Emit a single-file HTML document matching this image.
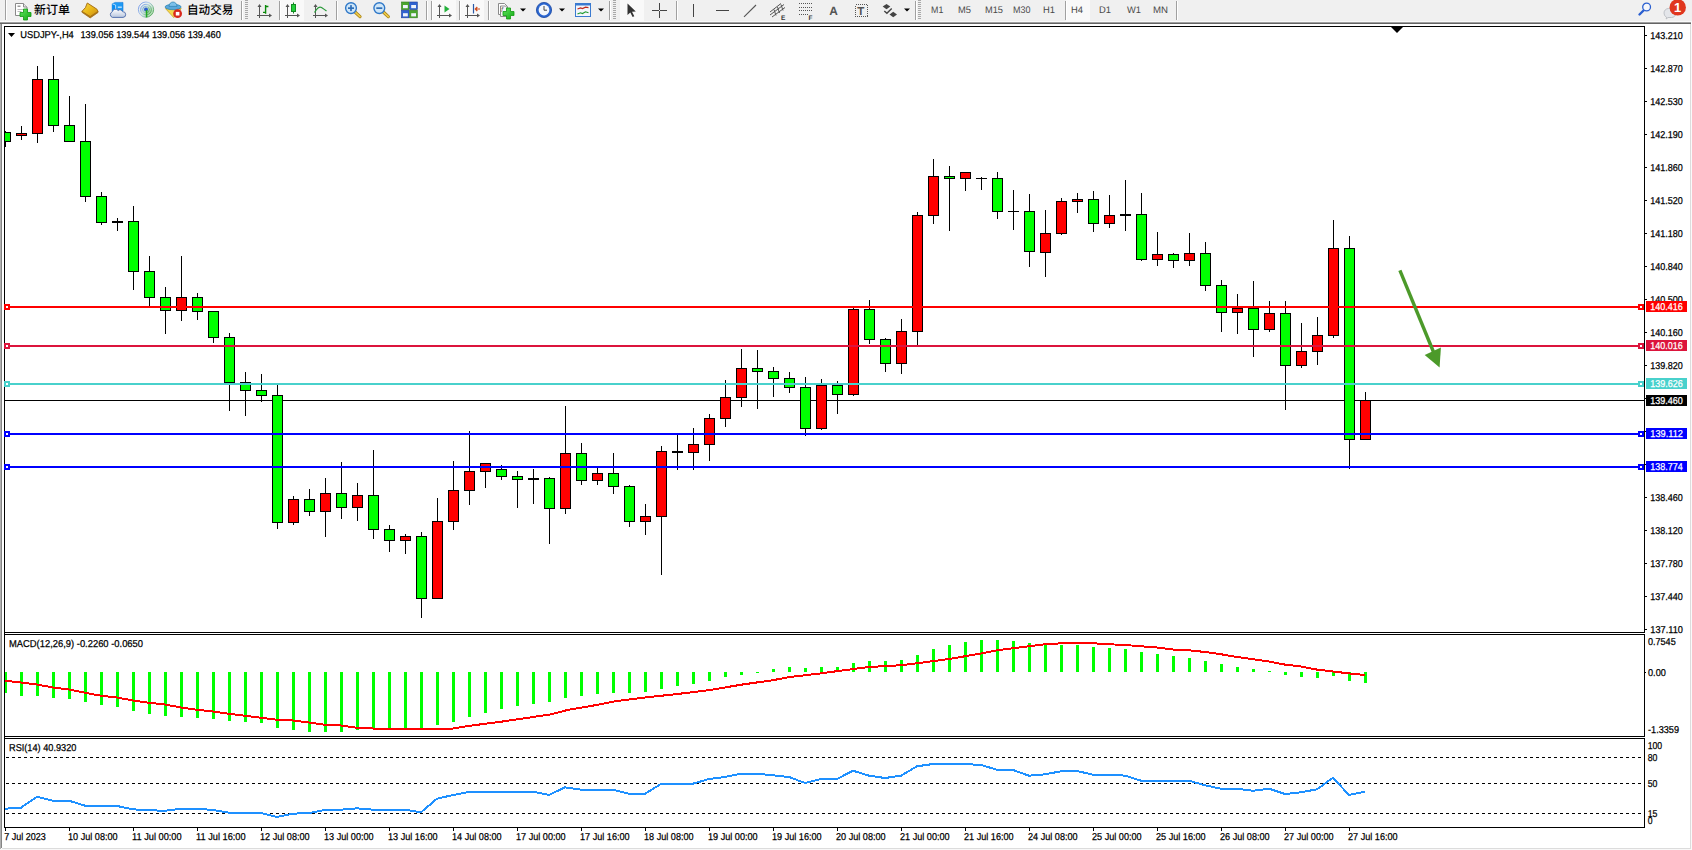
<!DOCTYPE html>
<html lang="zh"><head><meta charset="utf-8"><title>USDJPY-,H4</title>
<style>html,body{margin:0;padding:0;background:#fff;overflow:hidden}body{width:1692px;height:850px;position:relative}svg{position:absolute;left:0;top:0;display:block}text{font-family:"Liberation Sans","Noto Sans CJK SC",sans-serif;text-rendering:geometricPrecision}</style>
</head><body>
<svg width="1692" height="850" viewBox="0 0 1692 850">
<rect x="0" y="0" width="1692" height="850" fill="#ffffff"/>
<rect x="0" y="0" width="1692" height="22" fill="#f0f0f0"/>
<g shape-rendering="crispEdges">
<rect x="0" y="21" width="1692" height="1" fill="#fafafa"/>
<rect x="0" y="22" width="1691" height="1" fill="#a0a0a0"/>
<rect x="0" y="23" width="1691" height="1" fill="#646464"/>
<rect x="0" y="24" width="1" height="825" fill="#b0b0b0"/>
<rect x="1" y="24" width="1" height="824" fill="#858585"/>
<rect x="1690" y="24" width="1" height="825" fill="#dcdcdc"/>
<rect x="2" y="848" width="1689" height="1" fill="#dcdcdc"/>
<rect x="0" y="849" width="1692" height="1" fill="#f8f8f8"/>
<rect x="1691" y="24" width="1" height="826" fill="#fafafa"/>
</g>
<g shape-rendering="crispEdges" fill="#000">
<rect x="4" y="26" width="1641" height="1"/>
<rect x="4" y="26" width="1" height="802"/>
<rect x="1644" y="26" width="1" height="802"/>
<rect x="4" y="632" width="1641" height="1"/>
<rect x="4" y="634" width="1641" height="1"/>
<rect x="4" y="736" width="1641" height="1"/>
<rect x="4" y="738" width="1641" height="1"/>
<rect x="4" y="827" width="1641" height="1"/>
<rect x="4" y="633" width="1641" height="1" fill="#fff"/>
<rect x="4" y="737" width="1641" height="1" fill="#fff"/>
<rect x="4" y="633" width="1" height="1"/>
<rect x="4" y="737" width="1" height="1"/>
</g>
<g shape-rendering="crispEdges">
<rect x="5" y="400" width="1639" height="1" fill="#000"/>
<rect x="5" y="131" width="1" height="16" fill="#000"/>
<rect x="5" y="132" width="6" height="10" fill="#000"/>
<rect x="5" y="133" width="5" height="8" fill="#00ff00"/>
<rect x="21" y="126" width="1" height="14" fill="#000"/>
<rect x="16" y="133" width="11" height="3" fill="#000"/>
<rect x="17" y="134" width="9" height="1" fill="#ff0000"/>
<rect x="37" y="66" width="1" height="77" fill="#000"/>
<rect x="32" y="79" width="11" height="55" fill="#000"/>
<rect x="33" y="80" width="9" height="53" fill="#ff0000"/>
<rect x="53" y="56" width="1" height="76" fill="#000"/>
<rect x="48" y="79" width="11" height="47" fill="#000"/>
<rect x="49" y="80" width="9" height="45" fill="#00ff00"/>
<rect x="69" y="96" width="1" height="46" fill="#000"/>
<rect x="64" y="125" width="11" height="17" fill="#000"/>
<rect x="65" y="126" width="9" height="15" fill="#00ff00"/>
<rect x="85" y="104" width="1" height="98" fill="#000"/>
<rect x="80" y="141" width="11" height="56" fill="#000"/>
<rect x="81" y="142" width="9" height="54" fill="#00ff00"/>
<rect x="101" y="192" width="1" height="33" fill="#000"/>
<rect x="96" y="196" width="11" height="27" fill="#000"/>
<rect x="97" y="197" width="9" height="25" fill="#00ff00"/>
<rect x="117" y="218" width="1" height="13" fill="#000"/>
<rect x="112" y="221" width="11" height="2" fill="#000"/>
<rect x="133" y="206" width="1" height="84" fill="#000"/>
<rect x="128" y="221" width="11" height="51" fill="#000"/>
<rect x="129" y="222" width="9" height="49" fill="#00ff00"/>
<rect x="149" y="256" width="1" height="50" fill="#000"/>
<rect x="144" y="271" width="11" height="27" fill="#000"/>
<rect x="145" y="272" width="9" height="25" fill="#00ff00"/>
<rect x="165" y="287" width="1" height="47" fill="#000"/>
<rect x="160" y="297" width="11" height="14" fill="#000"/>
<rect x="161" y="298" width="9" height="12" fill="#00ff00"/>
<rect x="181" y="256" width="1" height="65" fill="#000"/>
<rect x="176" y="297" width="11" height="14" fill="#000"/>
<rect x="177" y="298" width="9" height="12" fill="#ff0000"/>
<rect x="197" y="293" width="1" height="27" fill="#000"/>
<rect x="192" y="297" width="11" height="15" fill="#000"/>
<rect x="193" y="298" width="9" height="13" fill="#00ff00"/>
<rect x="213" y="311" width="1" height="32" fill="#000"/>
<rect x="208" y="311" width="11" height="27" fill="#000"/>
<rect x="209" y="312" width="9" height="25" fill="#00ff00"/>
<rect x="229" y="333" width="1" height="78" fill="#000"/>
<rect x="224" y="337" width="11" height="46" fill="#000"/>
<rect x="225" y="338" width="9" height="44" fill="#00ff00"/>
<rect x="245" y="372" width="1" height="44" fill="#000"/>
<rect x="240" y="382" width="11" height="9" fill="#000"/>
<rect x="241" y="383" width="9" height="7" fill="#00ff00"/>
<rect x="261" y="374" width="1" height="28" fill="#000"/>
<rect x="256" y="390" width="11" height="6" fill="#000"/>
<rect x="257" y="391" width="9" height="4" fill="#00ff00"/>
<rect x="277" y="385" width="1" height="144" fill="#000"/>
<rect x="272" y="395" width="11" height="128" fill="#000"/>
<rect x="273" y="396" width="9" height="126" fill="#00ff00"/>
<rect x="293" y="496" width="1" height="29" fill="#000"/>
<rect x="288" y="499" width="11" height="24" fill="#000"/>
<rect x="289" y="500" width="9" height="22" fill="#ff0000"/>
<rect x="309" y="489" width="1" height="27" fill="#000"/>
<rect x="304" y="499" width="11" height="13" fill="#000"/>
<rect x="305" y="500" width="9" height="11" fill="#00ff00"/>
<rect x="325" y="478" width="1" height="59" fill="#000"/>
<rect x="320" y="493" width="11" height="19" fill="#000"/>
<rect x="321" y="494" width="9" height="17" fill="#ff0000"/>
<rect x="341" y="462" width="1" height="57" fill="#000"/>
<rect x="336" y="493" width="11" height="15" fill="#000"/>
<rect x="337" y="494" width="9" height="13" fill="#00ff00"/>
<rect x="357" y="483" width="1" height="38" fill="#000"/>
<rect x="352" y="495" width="11" height="13" fill="#000"/>
<rect x="353" y="496" width="9" height="11" fill="#ff0000"/>
<rect x="373" y="450" width="1" height="89" fill="#000"/>
<rect x="368" y="495" width="11" height="35" fill="#000"/>
<rect x="369" y="496" width="9" height="33" fill="#00ff00"/>
<rect x="389" y="525" width="1" height="27" fill="#000"/>
<rect x="384" y="529" width="11" height="12" fill="#000"/>
<rect x="385" y="530" width="9" height="10" fill="#00ff00"/>
<rect x="405" y="534" width="1" height="20" fill="#000"/>
<rect x="400" y="536" width="11" height="5" fill="#000"/>
<rect x="401" y="537" width="9" height="3" fill="#ff0000"/>
<rect x="421" y="532" width="1" height="86" fill="#000"/>
<rect x="416" y="536" width="11" height="63" fill="#000"/>
<rect x="417" y="537" width="9" height="61" fill="#00ff00"/>
<rect x="437" y="498" width="1" height="101" fill="#000"/>
<rect x="432" y="521" width="11" height="78" fill="#000"/>
<rect x="433" y="522" width="9" height="76" fill="#ff0000"/>
<rect x="453" y="461" width="1" height="69" fill="#000"/>
<rect x="448" y="490" width="11" height="32" fill="#000"/>
<rect x="449" y="491" width="9" height="30" fill="#ff0000"/>
<rect x="469" y="431" width="1" height="74" fill="#000"/>
<rect x="464" y="471" width="11" height="20" fill="#000"/>
<rect x="465" y="472" width="9" height="18" fill="#ff0000"/>
<rect x="485" y="463" width="1" height="25" fill="#000"/>
<rect x="480" y="463" width="11" height="9" fill="#000"/>
<rect x="481" y="464" width="9" height="7" fill="#ff0000"/>
<rect x="501" y="465" width="1" height="15" fill="#000"/>
<rect x="496" y="469" width="11" height="8" fill="#000"/>
<rect x="497" y="470" width="9" height="6" fill="#00ff00"/>
<rect x="517" y="471" width="1" height="37" fill="#000"/>
<rect x="512" y="476" width="11" height="4" fill="#000"/>
<rect x="513" y="477" width="9" height="2" fill="#00ff00"/>
<rect x="533" y="469" width="1" height="35" fill="#000"/>
<rect x="528" y="478" width="11" height="2" fill="#000"/>
<rect x="549" y="477" width="1" height="67" fill="#000"/>
<rect x="544" y="478" width="11" height="31" fill="#000"/>
<rect x="545" y="479" width="9" height="29" fill="#00ff00"/>
<rect x="565" y="406" width="1" height="108" fill="#000"/>
<rect x="560" y="453" width="11" height="56" fill="#000"/>
<rect x="561" y="454" width="9" height="54" fill="#ff0000"/>
<rect x="581" y="443" width="1" height="42" fill="#000"/>
<rect x="576" y="453" width="11" height="28" fill="#000"/>
<rect x="577" y="454" width="9" height="26" fill="#00ff00"/>
<rect x="597" y="468" width="1" height="17" fill="#000"/>
<rect x="592" y="473" width="11" height="8" fill="#000"/>
<rect x="593" y="474" width="9" height="6" fill="#ff0000"/>
<rect x="613" y="453" width="1" height="41" fill="#000"/>
<rect x="608" y="473" width="11" height="14" fill="#000"/>
<rect x="609" y="474" width="9" height="12" fill="#00ff00"/>
<rect x="629" y="485" width="1" height="42" fill="#000"/>
<rect x="624" y="486" width="11" height="36" fill="#000"/>
<rect x="625" y="487" width="9" height="34" fill="#00ff00"/>
<rect x="645" y="504" width="1" height="31" fill="#000"/>
<rect x="640" y="516" width="11" height="6" fill="#000"/>
<rect x="641" y="517" width="9" height="4" fill="#ff0000"/>
<rect x="661" y="446" width="1" height="129" fill="#000"/>
<rect x="656" y="451" width="11" height="66" fill="#000"/>
<rect x="657" y="452" width="9" height="64" fill="#ff0000"/>
<rect x="677" y="435" width="1" height="35" fill="#000"/>
<rect x="672" y="451" width="11" height="2" fill="#000"/>
<rect x="693" y="428" width="1" height="42" fill="#000"/>
<rect x="688" y="444" width="11" height="9" fill="#000"/>
<rect x="689" y="445" width="9" height="7" fill="#ff0000"/>
<rect x="709" y="414" width="1" height="47" fill="#000"/>
<rect x="704" y="418" width="11" height="27" fill="#000"/>
<rect x="705" y="419" width="9" height="25" fill="#ff0000"/>
<rect x="725" y="380" width="1" height="47" fill="#000"/>
<rect x="720" y="397" width="11" height="22" fill="#000"/>
<rect x="721" y="398" width="9" height="20" fill="#ff0000"/>
<rect x="741" y="349" width="1" height="58" fill="#000"/>
<rect x="736" y="368" width="11" height="30" fill="#000"/>
<rect x="737" y="369" width="9" height="28" fill="#ff0000"/>
<rect x="757" y="350" width="1" height="59" fill="#000"/>
<rect x="752" y="368" width="11" height="4" fill="#000"/>
<rect x="753" y="369" width="9" height="2" fill="#00ff00"/>
<rect x="773" y="367" width="1" height="30" fill="#000"/>
<rect x="768" y="371" width="11" height="8" fill="#000"/>
<rect x="769" y="372" width="9" height="6" fill="#00ff00"/>
<rect x="789" y="372" width="1" height="21" fill="#000"/>
<rect x="784" y="378" width="11" height="10" fill="#000"/>
<rect x="785" y="379" width="9" height="8" fill="#00ff00"/>
<rect x="805" y="377" width="1" height="59" fill="#000"/>
<rect x="800" y="387" width="11" height="42" fill="#000"/>
<rect x="801" y="388" width="9" height="40" fill="#00ff00"/>
<rect x="821" y="379" width="1" height="51" fill="#000"/>
<rect x="816" y="385" width="11" height="44" fill="#000"/>
<rect x="817" y="386" width="9" height="42" fill="#ff0000"/>
<rect x="837" y="381" width="1" height="33" fill="#000"/>
<rect x="832" y="385" width="11" height="10" fill="#000"/>
<rect x="833" y="386" width="9" height="8" fill="#00ff00"/>
<rect x="853" y="308" width="1" height="88" fill="#000"/>
<rect x="848" y="309" width="11" height="86" fill="#000"/>
<rect x="849" y="310" width="9" height="84" fill="#ff0000"/>
<rect x="869" y="300" width="1" height="44" fill="#000"/>
<rect x="864" y="309" width="11" height="31" fill="#000"/>
<rect x="865" y="310" width="9" height="29" fill="#00ff00"/>
<rect x="885" y="338" width="1" height="34" fill="#000"/>
<rect x="880" y="339" width="11" height="25" fill="#000"/>
<rect x="881" y="340" width="9" height="23" fill="#00ff00"/>
<rect x="901" y="319" width="1" height="55" fill="#000"/>
<rect x="896" y="331" width="11" height="33" fill="#000"/>
<rect x="897" y="332" width="9" height="31" fill="#ff0000"/>
<rect x="917" y="212" width="1" height="133" fill="#000"/>
<rect x="912" y="215" width="11" height="117" fill="#000"/>
<rect x="913" y="216" width="9" height="115" fill="#ff0000"/>
<rect x="933" y="159" width="1" height="65" fill="#000"/>
<rect x="928" y="176" width="11" height="40" fill="#000"/>
<rect x="929" y="177" width="9" height="38" fill="#ff0000"/>
<rect x="949" y="166" width="1" height="65" fill="#000"/>
<rect x="944" y="176" width="11" height="3" fill="#000"/>
<rect x="945" y="177" width="9" height="1" fill="#00ff00"/>
<rect x="965" y="172" width="1" height="19" fill="#000"/>
<rect x="960" y="172" width="11" height="7" fill="#000"/>
<rect x="961" y="173" width="9" height="5" fill="#ff0000"/>
<rect x="981" y="177" width="1" height="13" fill="#000"/>
<rect x="976" y="178" width="11" height="1" fill="#000"/>
<rect x="997" y="172" width="1" height="47" fill="#000"/>
<rect x="992" y="178" width="11" height="34" fill="#000"/>
<rect x="993" y="179" width="9" height="32" fill="#00ff00"/>
<rect x="1013" y="190" width="1" height="40" fill="#000"/>
<rect x="1008" y="211" width="11" height="1" fill="#000"/>
<rect x="1029" y="194" width="1" height="73" fill="#000"/>
<rect x="1024" y="211" width="11" height="41" fill="#000"/>
<rect x="1025" y="212" width="9" height="39" fill="#00ff00"/>
<rect x="1045" y="210" width="1" height="67" fill="#000"/>
<rect x="1040" y="233" width="11" height="20" fill="#000"/>
<rect x="1041" y="234" width="9" height="18" fill="#ff0000"/>
<rect x="1061" y="198" width="1" height="37" fill="#000"/>
<rect x="1056" y="201" width="11" height="33" fill="#000"/>
<rect x="1057" y="202" width="9" height="31" fill="#ff0000"/>
<rect x="1077" y="193" width="1" height="20" fill="#000"/>
<rect x="1072" y="199" width="11" height="3" fill="#000"/>
<rect x="1073" y="200" width="9" height="1" fill="#ff0000"/>
<rect x="1093" y="191" width="1" height="41" fill="#000"/>
<rect x="1088" y="199" width="11" height="25" fill="#000"/>
<rect x="1089" y="200" width="9" height="23" fill="#00ff00"/>
<rect x="1109" y="195" width="1" height="33" fill="#000"/>
<rect x="1104" y="215" width="11" height="9" fill="#000"/>
<rect x="1105" y="216" width="9" height="7" fill="#ff0000"/>
<rect x="1125" y="180" width="1" height="51" fill="#000"/>
<rect x="1120" y="214" width="11" height="2" fill="#000"/>
<rect x="1141" y="193" width="1" height="68" fill="#000"/>
<rect x="1136" y="214" width="11" height="46" fill="#000"/>
<rect x="1137" y="215" width="9" height="44" fill="#00ff00"/>
<rect x="1157" y="232" width="1" height="34" fill="#000"/>
<rect x="1152" y="254" width="11" height="6" fill="#000"/>
<rect x="1153" y="255" width="9" height="4" fill="#ff0000"/>
<rect x="1173" y="253" width="1" height="15" fill="#000"/>
<rect x="1168" y="254" width="11" height="7" fill="#000"/>
<rect x="1169" y="255" width="9" height="5" fill="#00ff00"/>
<rect x="1189" y="233" width="1" height="33" fill="#000"/>
<rect x="1184" y="253" width="11" height="8" fill="#000"/>
<rect x="1185" y="254" width="9" height="6" fill="#ff0000"/>
<rect x="1205" y="242" width="1" height="49" fill="#000"/>
<rect x="1200" y="253" width="11" height="33" fill="#000"/>
<rect x="1201" y="254" width="9" height="31" fill="#00ff00"/>
<rect x="1221" y="280" width="1" height="52" fill="#000"/>
<rect x="1216" y="285" width="11" height="28" fill="#000"/>
<rect x="1217" y="286" width="9" height="26" fill="#00ff00"/>
<rect x="1237" y="294" width="1" height="40" fill="#000"/>
<rect x="1232" y="308" width="11" height="5" fill="#000"/>
<rect x="1233" y="309" width="9" height="3" fill="#ff0000"/>
<rect x="1253" y="281" width="1" height="76" fill="#000"/>
<rect x="1248" y="308" width="11" height="22" fill="#000"/>
<rect x="1249" y="309" width="9" height="20" fill="#00ff00"/>
<rect x="1269" y="301" width="1" height="31" fill="#000"/>
<rect x="1264" y="313" width="11" height="17" fill="#000"/>
<rect x="1265" y="314" width="9" height="15" fill="#ff0000"/>
<rect x="1285" y="301" width="1" height="109" fill="#000"/>
<rect x="1280" y="313" width="11" height="53" fill="#000"/>
<rect x="1281" y="314" width="9" height="51" fill="#00ff00"/>
<rect x="1301" y="323" width="1" height="45" fill="#000"/>
<rect x="1296" y="351" width="11" height="15" fill="#000"/>
<rect x="1297" y="352" width="9" height="13" fill="#ff0000"/>
<rect x="1317" y="317" width="1" height="48" fill="#000"/>
<rect x="1312" y="335" width="11" height="17" fill="#000"/>
<rect x="1313" y="336" width="9" height="15" fill="#ff0000"/>
<rect x="1333" y="220" width="1" height="118" fill="#000"/>
<rect x="1328" y="248" width="11" height="88" fill="#000"/>
<rect x="1329" y="249" width="9" height="86" fill="#ff0000"/>
<rect x="1349" y="236" width="1" height="233" fill="#000"/>
<rect x="1344" y="248" width="11" height="192" fill="#000"/>
<rect x="1345" y="249" width="9" height="190" fill="#00ff00"/>
<rect x="1365" y="392" width="1" height="48" fill="#000"/>
<rect x="1360" y="400" width="11" height="40" fill="#000"/>
<rect x="1361" y="401" width="9" height="38" fill="#ff0000"/>
</g>
<g shape-rendering="crispEdges">
<rect x="5" y="306" width="1639" height="2" fill="#ff0000"/>
<rect x="4" y="304" width="6" height="6" fill="#ff0000"/>
<rect x="6" y="306" width="2" height="2" fill="#fff"/>
<rect x="1638" y="304" width="6" height="6" fill="#ff0000"/>
<rect x="1640" y="306" width="2" height="2" fill="#fff"/>
<rect x="5" y="345" width="1639" height="2" fill="#dc143c"/>
<rect x="4" y="343" width="6" height="6" fill="#dc143c"/>
<rect x="6" y="345" width="2" height="2" fill="#fff"/>
<rect x="1638" y="343" width="6" height="6" fill="#dc143c"/>
<rect x="1640" y="345" width="2" height="2" fill="#fff"/>
<rect x="5" y="383" width="1639" height="2" fill="#48d1cc"/>
<rect x="4" y="381" width="6" height="6" fill="#48d1cc"/>
<rect x="6" y="383" width="2" height="2" fill="#fff"/>
<rect x="1638" y="381" width="6" height="6" fill="#48d1cc"/>
<rect x="1640" y="383" width="2" height="2" fill="#fff"/>
<rect x="5" y="433" width="1639" height="2" fill="#0000ff"/>
<rect x="4" y="431" width="6" height="6" fill="#0000ff"/>
<rect x="6" y="433" width="2" height="2" fill="#fff"/>
<rect x="1638" y="431" width="6" height="6" fill="#0000ff"/>
<rect x="1640" y="433" width="2" height="2" fill="#fff"/>
<rect x="5" y="466" width="1639" height="2" fill="#0000ff"/>
<rect x="4" y="464" width="6" height="6" fill="#0000ff"/>
<rect x="6" y="466" width="2" height="2" fill="#fff"/>
<rect x="1638" y="464" width="6" height="6" fill="#0000ff"/>
<rect x="1640" y="466" width="2" height="2" fill="#fff"/>
</g>
<g fill="#4c9a2a" stroke="none">
<line x1="1399.9" y1="270.4" x2="1433.5" y2="352" stroke="#4c9a2a" stroke-width="3.4"/>
<polygon points="1424.7,355 1440.9,347.4 1439.6,367.6"/>
</g>
<polygon points="1391,27 1403,27 1397,33" fill="#000"/>
<g shape-rendering="crispEdges" fill="#000">
<rect x="1645" y="35" width="2" height="1"/>
<rect x="1645" y="68" width="2" height="1"/>
<rect x="1645" y="101" width="2" height="1"/>
<rect x="1645" y="134" width="2" height="1"/>
<rect x="1645" y="167" width="2" height="1"/>
<rect x="1645" y="200" width="2" height="1"/>
<rect x="1645" y="233" width="2" height="1"/>
<rect x="1645" y="266" width="2" height="1"/>
<rect x="1645" y="299" width="2" height="1"/>
<rect x="1645" y="332" width="2" height="1"/>
<rect x="1645" y="365" width="2" height="1"/>
<rect x="1645" y="398" width="2" height="1"/>
<rect x="1645" y="431" width="2" height="1"/>
<rect x="1645" y="464" width="2" height="1"/>
<rect x="1645" y="497" width="2" height="1"/>
<rect x="1645" y="530" width="2" height="1"/>
<rect x="1645" y="563" width="2" height="1"/>
<rect x="1645" y="596" width="2" height="1"/>
<rect x="1645" y="629" width="2" height="1"/>
</g>
<g font-size="10" fill="#000" stroke="#000" stroke-width="0.25">
<text x="1650.3" y="39" textLength="32.6" lengthAdjust="spacingAndGlyphs">143.210</text>
<text x="1650.3" y="72" textLength="32.6" lengthAdjust="spacingAndGlyphs">142.870</text>
<text x="1650.3" y="105" textLength="32.6" lengthAdjust="spacingAndGlyphs">142.530</text>
<text x="1650.3" y="138" textLength="32.6" lengthAdjust="spacingAndGlyphs">142.190</text>
<text x="1650.3" y="171" textLength="32.6" lengthAdjust="spacingAndGlyphs">141.860</text>
<text x="1650.3" y="204" textLength="32.6" lengthAdjust="spacingAndGlyphs">141.520</text>
<text x="1650.3" y="237" textLength="32.6" lengthAdjust="spacingAndGlyphs">141.180</text>
<text x="1650.3" y="270" textLength="32.6" lengthAdjust="spacingAndGlyphs">140.840</text>
<text x="1650.3" y="303" textLength="32.6" lengthAdjust="spacingAndGlyphs">140.500</text>
<text x="1650.3" y="336" textLength="32.6" lengthAdjust="spacingAndGlyphs">140.160</text>
<text x="1650.3" y="369" textLength="32.6" lengthAdjust="spacingAndGlyphs">139.820</text>
<text x="1650.3" y="402" textLength="32.6" lengthAdjust="spacingAndGlyphs">139.480</text>
<text x="1650.3" y="435" textLength="32.6" lengthAdjust="spacingAndGlyphs">139.140</text>
<text x="1650.3" y="468" textLength="32.6" lengthAdjust="spacingAndGlyphs">138.800</text>
<text x="1650.3" y="501" textLength="32.6" lengthAdjust="spacingAndGlyphs">138.460</text>
<text x="1650.3" y="534" textLength="32.6" lengthAdjust="spacingAndGlyphs">138.120</text>
<text x="1650.3" y="567" textLength="32.6" lengthAdjust="spacingAndGlyphs">137.780</text>
<text x="1650.3" y="600" textLength="32.6" lengthAdjust="spacingAndGlyphs">137.440</text>
<text x="1650.3" y="633" textLength="32.6" lengthAdjust="spacingAndGlyphs">137.110</text>
</g>
<g shape-rendering="crispEdges">
<rect x="1646" y="301" width="41" height="11" fill="#ff0000"/>
<rect x="1646" y="340" width="41" height="11" fill="#dc143c"/>
<rect x="1646" y="378" width="41" height="11" fill="#48d1cc"/>
<rect x="1646" y="428" width="41" height="11" fill="#0000ff"/>
<rect x="1646" y="461" width="41" height="11" fill="#0000ff"/>
<rect x="1646" y="395" width="41" height="11" fill="#000000"/>
</g>
<g font-size="10" fill="#fff" stroke="#fff" stroke-width="0.25">
<text x="1650.3" y="310" textLength="32.6" lengthAdjust="spacingAndGlyphs">140.416</text>
<text x="1650.3" y="349" textLength="32.6" lengthAdjust="spacingAndGlyphs">140.016</text>
<text x="1650.3" y="387" textLength="32.6" lengthAdjust="spacingAndGlyphs">139.626</text>
<text x="1650.3" y="437" textLength="32.6" lengthAdjust="spacingAndGlyphs">139.112</text>
<text x="1650.3" y="470" textLength="32.6" lengthAdjust="spacingAndGlyphs">138.774</text>
<text x="1650.3" y="404" textLength="32.6" lengthAdjust="spacingAndGlyphs">139.460</text>
</g>
<polygon points="8,33 15,33 11.5,37" fill="#000"/>
<text x="20.3" y="38" font-size="10" fill="#000" stroke="#000" stroke-width="0.25" textLength="53.5" lengthAdjust="spacingAndGlyphs">USDJPY-,H4</text>
<text x="80.5" y="38" font-size="10" fill="#000" stroke="#000" stroke-width="0.25" textLength="140.3" lengthAdjust="spacingAndGlyphs">139.056 139.544 139.056 139.460</text>
<g shape-rendering="crispEdges" fill="#00ff00">
<rect x="5" y="672" width="2" height="21"/>
<rect x="20" y="672" width="3" height="24"/>
<rect x="36" y="672" width="3" height="24"/>
<rect x="52" y="672" width="3" height="26"/>
<rect x="68" y="672" width="3" height="27"/>
<rect x="84" y="672" width="3" height="30"/>
<rect x="100" y="672" width="3" height="33"/>
<rect x="116" y="672" width="3" height="35"/>
<rect x="132" y="672" width="3" height="39"/>
<rect x="148" y="672" width="3" height="42"/>
<rect x="164" y="672" width="3" height="44"/>
<rect x="180" y="672" width="3" height="45"/>
<rect x="196" y="672" width="3" height="46"/>
<rect x="212" y="672" width="3" height="47"/>
<rect x="228" y="672" width="3" height="49"/>
<rect x="244" y="672" width="3" height="50"/>
<rect x="260" y="672" width="3" height="51"/>
<rect x="276" y="672" width="3" height="56"/>
<rect x="292" y="672" width="3" height="58"/>
<rect x="308" y="672" width="3" height="60"/>
<rect x="324" y="672" width="3" height="60"/>
<rect x="340" y="672" width="3" height="60"/>
<rect x="356" y="672" width="3" height="58"/>
<rect x="372" y="672" width="3" height="57"/>
<rect x="388" y="672" width="3" height="56"/>
<rect x="404" y="672" width="3" height="56"/>
<rect x="420" y="672" width="3" height="56"/>
<rect x="436" y="672" width="3" height="53"/>
<rect x="452" y="672" width="3" height="50"/>
<rect x="468" y="672" width="3" height="45"/>
<rect x="484" y="672" width="3" height="41"/>
<rect x="500" y="672" width="3" height="37"/>
<rect x="516" y="672" width="3" height="34"/>
<rect x="532" y="672" width="3" height="32"/>
<rect x="548" y="672" width="3" height="30"/>
<rect x="564" y="672" width="3" height="26"/>
<rect x="580" y="672" width="3" height="24"/>
<rect x="596" y="672" width="3" height="22"/>
<rect x="612" y="672" width="3" height="21"/>
<rect x="628" y="672" width="3" height="21"/>
<rect x="644" y="672" width="3" height="20"/>
<rect x="660" y="672" width="3" height="17"/>
<rect x="676" y="672" width="3" height="14"/>
<rect x="692" y="672" width="3" height="12"/>
<rect x="708" y="672" width="3" height="9"/>
<rect x="724" y="672" width="3" height="5"/>
<rect x="740" y="672" width="3" height="3"/>
<rect x="756" y="672" width="3" height="1"/>
<rect x="772" y="669" width="3" height="3"/>
<rect x="788" y="667" width="3" height="5"/>
<rect x="804" y="668" width="3" height="4"/>
<rect x="820" y="667" width="3" height="5"/>
<rect x="836" y="667" width="3" height="5"/>
<rect x="852" y="663" width="3" height="9"/>
<rect x="868" y="661" width="3" height="11"/>
<rect x="884" y="661" width="3" height="11"/>
<rect x="900" y="660" width="3" height="12"/>
<rect x="916" y="655" width="3" height="17"/>
<rect x="932" y="649" width="3" height="23"/>
<rect x="948" y="645" width="3" height="27"/>
<rect x="964" y="642" width="3" height="30"/>
<rect x="980" y="640" width="3" height="32"/>
<rect x="996" y="640" width="3" height="32"/>
<rect x="1012" y="641" width="3" height="31"/>
<rect x="1028" y="643" width="3" height="29"/>
<rect x="1044" y="644" width="3" height="28"/>
<rect x="1060" y="645" width="3" height="27"/>
<rect x="1076" y="645" width="3" height="27"/>
<rect x="1092" y="647" width="3" height="25"/>
<rect x="1108" y="648" width="3" height="24"/>
<rect x="1124" y="649" width="3" height="23"/>
<rect x="1140" y="652" width="3" height="20"/>
<rect x="1156" y="654" width="3" height="18"/>
<rect x="1172" y="656" width="3" height="16"/>
<rect x="1188" y="658" width="3" height="14"/>
<rect x="1204" y="661" width="3" height="11"/>
<rect x="1220" y="664" width="3" height="8"/>
<rect x="1236" y="667" width="3" height="5"/>
<rect x="1252" y="669" width="3" height="3"/>
<rect x="1268" y="671" width="3" height="1"/>
<rect x="1284" y="672" width="3" height="3"/>
<rect x="1300" y="672" width="3" height="5"/>
<rect x="1316" y="672" width="3" height="6"/>
<rect x="1332" y="672" width="3" height="4"/>
<rect x="1348" y="672" width="3" height="9"/>
<rect x="1364" y="672" width="3" height="11"/>
</g>
<polyline points="5,680.75 21,682.5 37,684.5 53,687.5 69,689.5 85,692.75 101,695.75 117,697.5 133,700.5 149,702.75 165,704.5 181,707.5 197,709.75 213,711.5 229,713.75 245,715.75 261,717.75 277,719.75 293,720.5 309,722.5 325,724.75 341,725.5 357,727.75 373,728.5 389,728.6 420,728.6 452.5,728.6 470,725.75 502.5,721.5 550,714.5 567.5,710 595,705.25 615,701.25 645,697.5 677.5,694 710,690 742.5,684.5 772.5,680.25 790,677 820,673.5 840,670.75 869,667 901,665.25 917,663.25 949,659 965,656.25 981,653.5 997,650.25 1013,648.25 1029,646.25 1045,644.25 1062.5,643.25 1093,643.25 1109,644.25 1125,645 1141,646.25 1157,647.5 1173,649.5 1189,650.25 1205,652 1221,654.25 1237,657 1253,659.2 1269,661.5 1285,664.6 1301,666.5 1317,669.6 1333,671.5 1349,673.4 1365,675" fill="none" stroke="#ff0000" stroke-width="2" stroke-linejoin="round" shape-rendering="crispEdges"/>
<text x="9" y="647" font-size="10" fill="#000" stroke="#000" stroke-width="0.25" textLength="134" lengthAdjust="spacingAndGlyphs">MACD(12,26,9) -0.2260 -0.0650</text>
<g shape-rendering="crispEdges" fill="#000">
<rect x="1645" y="672" width="1" height="1"/>
</g>
<g font-size="10" fill="#000" stroke="#000" stroke-width="0.25">
<text x="1648" y="645" textLength="27.7" lengthAdjust="spacingAndGlyphs">0.7545</text>
<text x="1648" y="676" textLength="17.8" lengthAdjust="spacingAndGlyphs">0.00</text>
<text x="1648" y="733" textLength="31" lengthAdjust="spacingAndGlyphs">-1.3359</text>
</g>
<g shape-rendering="crispEdges" stroke="#000" stroke-width="1" stroke-dasharray="3 3">
<line x1="6" y1="757.5" x2="1644" y2="757.5"/>
<line x1="6" y1="783.5" x2="1644" y2="783.5"/>
<line x1="6" y1="813.5" x2="1644" y2="813.5"/>
</g>
<polyline points="5,808.7 21,807.7 37,796.7 53,800.7 69,800.7 85,805.7 101,806 117,806 133,809.3 149,810.3 165,810.7 181,808.7 197,808.7 213,810 229,812.7 245,813 261,813 277,817 293,813.7 309,813 325,810 341,809.7 357,808.3 373,809.7 389,809.7 405,809.7 421,812.3 437,798.7 453,795 469,792 485,791.7 501,791.7 517,791.7 533,791.7 549,795 565,787.3 581,789.7 597,789.7 613,789.7 629,793.7 645,793.7 661,784 677,784 693,783.7 709,779 725,777 741,773.7 757,773.7 773,775.3 789,777 805,783 821,779 837,779 853,770.7 869,775.7 885,778 901,775.7 917,766.3 933,764 949,763.7 965,764 981,765 997,769.7 1013,770 1029,775.7 1045,774.3 1061,771.3 1077,771 1093,774.7 1109,774.7 1125,775.6 1141,780.7 1157,780.7 1173,780.7 1189,780.7 1205,785.3 1221,788.7 1237,788.7 1253,790.7 1269,788.7 1285,794 1301,792.3 1317,789.3 1333,777.7 1349,795 1365,791.7" fill="none" stroke="#1e90ff" stroke-width="2" stroke-linejoin="round" shape-rendering="crispEdges"/>
<text x="9" y="751" font-size="10" fill="#000" stroke="#000" stroke-width="0.25" textLength="67.4" lengthAdjust="spacingAndGlyphs">RSI(14) 40.9320</text>
<g font-size="10" fill="#000" stroke="#000" stroke-width="0.25">
<text x="1647.7" y="749" textLength="14.5" lengthAdjust="spacingAndGlyphs">100</text>
<text x="1647.7" y="761" textLength="9.7" lengthAdjust="spacingAndGlyphs">80</text>
<text x="1647.7" y="787" textLength="9.7" lengthAdjust="spacingAndGlyphs">50</text>
<text x="1647.7" y="817" textLength="9.7" lengthAdjust="spacingAndGlyphs">15</text>
<text x="1647.7" y="824" textLength="4.8" lengthAdjust="spacingAndGlyphs">0</text>
</g>
<g shape-rendering="crispEdges" fill="#000">
<rect x="5" y="828" width="1" height="3"/>
<rect x="69" y="828" width="1" height="3"/>
<rect x="133" y="828" width="1" height="3"/>
<rect x="197" y="828" width="1" height="3"/>
<rect x="261" y="828" width="1" height="3"/>
<rect x="325" y="828" width="1" height="3"/>
<rect x="389" y="828" width="1" height="3"/>
<rect x="453" y="828" width="1" height="3"/>
<rect x="517" y="828" width="1" height="3"/>
<rect x="581" y="828" width="1" height="3"/>
<rect x="645" y="828" width="1" height="3"/>
<rect x="709" y="828" width="1" height="3"/>
<rect x="773" y="828" width="1" height="3"/>
<rect x="837" y="828" width="1" height="3"/>
<rect x="901" y="828" width="1" height="3"/>
<rect x="965" y="828" width="1" height="3"/>
<rect x="1029" y="828" width="1" height="3"/>
<rect x="1093" y="828" width="1" height="3"/>
<rect x="1157" y="828" width="1" height="3"/>
<rect x="1221" y="828" width="1" height="3"/>
<rect x="1285" y="828" width="1" height="3"/>
<rect x="1349" y="828" width="1" height="3"/>
</g>
<g font-size="10" fill="#000" stroke="#000" stroke-width="0.25">
<text x="4.3" y="840" textLength="41.5" lengthAdjust="spacingAndGlyphs">7 Jul 2023</text>
<text x="68" y="840" textLength="49.6" lengthAdjust="spacingAndGlyphs">10 Jul 08:00</text>
<text x="132" y="840" textLength="49.6" lengthAdjust="spacingAndGlyphs">11 Jul 00:00</text>
<text x="196" y="840" textLength="49.6" lengthAdjust="spacingAndGlyphs">11 Jul 16:00</text>
<text x="260" y="840" textLength="49.6" lengthAdjust="spacingAndGlyphs">12 Jul 08:00</text>
<text x="324" y="840" textLength="49.6" lengthAdjust="spacingAndGlyphs">13 Jul 00:00</text>
<text x="388" y="840" textLength="49.6" lengthAdjust="spacingAndGlyphs">13 Jul 16:00</text>
<text x="452" y="840" textLength="49.6" lengthAdjust="spacingAndGlyphs">14 Jul 08:00</text>
<text x="516" y="840" textLength="49.6" lengthAdjust="spacingAndGlyphs">17 Jul 00:00</text>
<text x="580" y="840" textLength="49.6" lengthAdjust="spacingAndGlyphs">17 Jul 16:00</text>
<text x="644" y="840" textLength="49.6" lengthAdjust="spacingAndGlyphs">18 Jul 08:00</text>
<text x="708" y="840" textLength="49.6" lengthAdjust="spacingAndGlyphs">19 Jul 00:00</text>
<text x="772" y="840" textLength="49.6" lengthAdjust="spacingAndGlyphs">19 Jul 16:00</text>
<text x="836" y="840" textLength="49.6" lengthAdjust="spacingAndGlyphs">20 Jul 08:00</text>
<text x="900" y="840" textLength="49.6" lengthAdjust="spacingAndGlyphs">21 Jul 00:00</text>
<text x="964" y="840" textLength="49.6" lengthAdjust="spacingAndGlyphs">21 Jul 16:00</text>
<text x="1028" y="840" textLength="49.6" lengthAdjust="spacingAndGlyphs">24 Jul 08:00</text>
<text x="1092" y="840" textLength="49.6" lengthAdjust="spacingAndGlyphs">25 Jul 00:00</text>
<text x="1156" y="840" textLength="49.6" lengthAdjust="spacingAndGlyphs">25 Jul 16:00</text>
<text x="1220" y="840" textLength="49.6" lengthAdjust="spacingAndGlyphs">26 Jul 08:00</text>
<text x="1284" y="840" textLength="49.6" lengthAdjust="spacingAndGlyphs">27 Jul 00:00</text>
<text x="1348" y="840" textLength="49.6" lengthAdjust="spacingAndGlyphs">27 Jul 16:00</text>
</g>
<rect x="280" y="0" width="24" height="21" fill="#f9f9f9" shape-rendering="crispEdges"/>
<rect x="432" y="0" width="24" height="21" fill="#f9f9f9" shape-rendering="crispEdges"/>
<rect x="460" y="0" width="24" height="21" fill="#f9f9f9" shape-rendering="crispEdges"/>
<rect x="620" y="0" width="24" height="21" fill="#f9f9f9" shape-rendering="crispEdges"/>
<rect x="1066" y="0" width="24" height="21" fill="#f9f9f9" shape-rendering="crispEdges"/>
<rect x="5" y="0" width="1" height="20" fill="#a0a0a0" shape-rendering="crispEdges"/>
<rect x="6" y="0" width="1" height="20" fill="#ffffff" shape-rendering="crispEdges"/>
<rect x="241" y="1" width="1" height="19" fill="#a0a0a0" shape-rendering="crispEdges"/>
<rect x="242" y="1" width="1" height="19" fill="#ffffff" shape-rendering="crispEdges"/>
<rect x="279" y="1" width="1" height="19" fill="#a0a0a0" shape-rendering="crispEdges"/>
<rect x="280" y="1" width="1" height="19" fill="#ffffff" shape-rendering="crispEdges"/>
<rect x="336" y="1" width="1" height="19" fill="#a0a0a0" shape-rendering="crispEdges"/>
<rect x="337" y="1" width="1" height="19" fill="#ffffff" shape-rendering="crispEdges"/>
<rect x="426" y="1" width="1" height="19" fill="#a0a0a0" shape-rendering="crispEdges"/>
<rect x="427" y="1" width="1" height="19" fill="#ffffff" shape-rendering="crispEdges"/>
<rect x="431" y="1" width="1" height="19" fill="#a0a0a0" shape-rendering="crispEdges"/>
<rect x="432" y="1" width="1" height="19" fill="#ffffff" shape-rendering="crispEdges"/>
<rect x="459" y="1" width="1" height="19" fill="#a0a0a0" shape-rendering="crispEdges"/>
<rect x="460" y="1" width="1" height="19" fill="#ffffff" shape-rendering="crispEdges"/>
<rect x="488" y="1" width="1" height="19" fill="#a0a0a0" shape-rendering="crispEdges"/>
<rect x="489" y="1" width="1" height="19" fill="#ffffff" shape-rendering="crispEdges"/>
<rect x="609" y="1" width="1" height="19" fill="#a0a0a0" shape-rendering="crispEdges"/>
<rect x="610" y="1" width="1" height="19" fill="#ffffff" shape-rendering="crispEdges"/>
<rect x="676" y="1" width="1" height="19" fill="#a0a0a0" shape-rendering="crispEdges"/>
<rect x="677" y="1" width="1" height="19" fill="#ffffff" shape-rendering="crispEdges"/>
<rect x="915" y="1" width="1" height="19" fill="#a0a0a0" shape-rendering="crispEdges"/>
<rect x="916" y="1" width="1" height="19" fill="#ffffff" shape-rendering="crispEdges"/>
<rect x="1065" y="1" width="1" height="19" fill="#a0a0a0" shape-rendering="crispEdges"/>
<rect x="1066" y="1" width="1" height="19" fill="#ffffff" shape-rendering="crispEdges"/>
<rect x="1176" y="1" width="1" height="19" fill="#a0a0a0" shape-rendering="crispEdges"/>
<rect x="1177" y="1" width="1" height="19" fill="#ffffff" shape-rendering="crispEdges"/>
<g shape-rendering="crispEdges" fill="#a8a8a8">
<rect x="245" y="0" width="3" height="1"/>
<rect x="245" y="2" width="3" height="1"/>
<rect x="245" y="4" width="3" height="1"/>
<rect x="245" y="6" width="3" height="1"/>
<rect x="245" y="8" width="3" height="1"/>
<rect x="245" y="10" width="3" height="1"/>
<rect x="245" y="12" width="3" height="1"/>
<rect x="245" y="14" width="3" height="1"/>
<rect x="245" y="16" width="3" height="1"/>
<rect x="245" y="18" width="3" height="1"/>
</g>
<g shape-rendering="crispEdges" fill="#a8a8a8">
<rect x="613" y="0" width="3" height="1"/>
<rect x="613" y="2" width="3" height="1"/>
<rect x="613" y="4" width="3" height="1"/>
<rect x="613" y="6" width="3" height="1"/>
<rect x="613" y="8" width="3" height="1"/>
<rect x="613" y="10" width="3" height="1"/>
<rect x="613" y="12" width="3" height="1"/>
<rect x="613" y="14" width="3" height="1"/>
<rect x="613" y="16" width="3" height="1"/>
<rect x="613" y="18" width="3" height="1"/>
</g>
<g shape-rendering="crispEdges" fill="#a8a8a8">
<rect x="918" y="0" width="3" height="1"/>
<rect x="918" y="2" width="3" height="1"/>
<rect x="918" y="4" width="3" height="1"/>
<rect x="918" y="6" width="3" height="1"/>
<rect x="918" y="8" width="3" height="1"/>
<rect x="918" y="10" width="3" height="1"/>
<rect x="918" y="12" width="3" height="1"/>
<rect x="918" y="14" width="3" height="1"/>
<rect x="918" y="16" width="3" height="1"/>
<rect x="918" y="18" width="3" height="1"/>
</g>
<g>
<path d="M15.5,3.5 h8 l3.5,3.5 v8.5 h-11.5 z" fill="#ffffff" stroke="#8a8a8a" stroke-width="1"/>
<path d="M23.5,3.5 v3.5 h3.5" fill="#e8e8e8" stroke="#8a8a8a" stroke-width="1"/>
<rect x="17.5" y="5.5" width="3" height="1.5" fill="#999"/>
<rect x="17.5" y="9" width="6" height="1" fill="#bbb"/><rect x="17.5" y="11" width="4" height="1" fill="#bbb"/>
<path d="M23.5,9 h4 v3.5 h3.5 v4 h-3.5 v3.5 h-4 v-3.5 h-3.5 v-4 h3.5 z" fill="url(#gPlus)" stroke="#0f9a0f" stroke-width="0.8"/>
</g>
<text x="34" y="14" font-size="12" font-weight="500" fill="#000">新订单</text>
<defs><linearGradient id="gGold" x1="0" y1="0" x2="1" y2="1"><stop offset="0" stop-color="#f7d84a"/><stop offset="0.5" stop-color="#eab818"/><stop offset="1" stop-color="#c88a14"/></linearGradient><linearGradient id="gCloud" x1="0" y1="0" x2="0" y2="1"><stop offset="0" stop-color="#ffffff"/><stop offset="1" stop-color="#b8c6de"/></linearGradient><linearGradient id="gPlus" x1="0" y1="0" x2="1" y2="1"><stop offset="0" stop-color="#5fe65f"/><stop offset="1" stop-color="#12a812"/></linearGradient></defs>
<path d="M82,12.3 l8.2,5.6 l7.8,-5.4 v-1.4 l-8,5.2 l-8,-5.4 z" fill="#b07a16" stroke="#a06c12" stroke-width="0.8"/>
<path d="M87.3,3 L96.9,9.2 L98,11.4 L90.2,16.6 L82,11.4 Q86.2,8 87.3,3 Z" fill="url(#gGold)" stroke="#a87214" stroke-width="1"/>
<path d="M112.2,3.8 l3,-1.4 h7.8 v8.6 h-10.8 z" fill="#1e9af5" stroke="#1678d8" stroke-width="0.6"/>
<path d="M112.2,3.8 l3.4,1.2 v6.5 h-3.4 z" fill="#0b8cf0"/>
<path d="M115.6,5 v6" stroke="#cfeaff" stroke-width="0.8"/><path d="M112.4,3.9 l3.2,1.1" stroke="#cfeaff" stroke-width="0.8"/>
<rect x="117.8" y="6.6" width="4" height="1.1" fill="#e8f5ff"/>
<path d="M112.4,17.4 a3,3 0 0 1 -0.2,-5.6 a3.4,3.4 0 0 1 6,-1.3 a2.6,2.6 0 0 1 4.3,1.2 a2.8,2.8 0 0 1 0.6,5.7 z" fill="url(#gCloud)" stroke="#4a68a8" stroke-width="0.9"/>
<defs><linearGradient id="gSig" x1="0" y1="0" x2="1" y2="0.6"><stop offset="0" stop-color="#3f6fe0"/><stop offset="0.5" stop-color="#9fc0e8"/><stop offset="1" stop-color="#3f9f4a"/></linearGradient><radialGradient id="gSigBg" cx="0.7" cy="0.7" r="0.7"><stop offset="0" stop-color="#9fd49f"/><stop offset="1" stop-color="#eef2f6"/></radialGradient></defs>
<circle cx="146" cy="9.6" r="7.6" fill="url(#gSigBg)" stroke="url(#gSig)" stroke-width="1" stroke-opacity="0.8"/>
<circle cx="146" cy="9.6" r="5.3" fill="none" stroke="url(#gSig)" stroke-width="1" stroke-opacity="0.8"/>
<circle cx="146" cy="9.6" r="3.3" fill="none" stroke="url(#gSig)" stroke-width="0.9" stroke-opacity="0.8"/>
<circle cx="146" cy="9.6" r="2" fill="#2a5ed0"/>
<path d="M146.6,10 v7.4" fill="none" stroke="#22a822" stroke-width="1.5"/>
<path d="M165.5,8.6 l8.3,9 l7.4,-9 z" fill="#f4d84e" stroke="#c9a21c" stroke-width="0.8"/>
<ellipse cx="173.1" cy="7" rx="8" ry="2.7" fill="#5aa8dc" stroke="#2a7fb0" stroke-width="0.7"/>
<path d="M169,6.4 a4,4.4 0 0 1 8,0 z" fill="#7cc0ea" stroke="#2a7fb0" stroke-width="0.7"/>
<circle cx="177.6" cy="13.7" r="4.4" fill="#d9281c"/>
<rect x="175.8" y="11.9" width="3.6" height="3.6" fill="#fff"/>
<text x="187" y="14" font-size="12" font-weight="500" fill="#000" textLength="46.5" lengthAdjust="spacingAndGlyphs">自动交易</text>
<g stroke="#555555" stroke-width="1" fill="none" shape-rendering="crispEdges">
<line x1="259.5" y1="5" x2="259.5" y2="18"/>
<line x1="257" y1="15.5" x2="271" y2="15.5"/>
</g>
<polygon points="257.5,7 259.5,4 261.5,7" fill="#555555"/>
<polygon points="269,13.5 272,15.5 269,17.5" fill="#555555"/>
<g stroke="#0a8a0a" stroke-width="1.4" fill="none"><path d="M265.6,5 v8.8 M265.6,6.5 h2.8 M263,12.4 h2.6"/></g>
<g stroke="#555555" stroke-width="1" fill="none" shape-rendering="crispEdges">
<line x1="287.5" y1="5" x2="287.5" y2="18"/>
<line x1="285" y1="15.5" x2="299" y2="15.5"/>
</g>
<polygon points="285.5,7 287.5,4 289.5,7" fill="#555555"/>
<polygon points="297,13.5 300,15.5 297,17.5" fill="#555555"/>
<line x1="293.5" y1="2.5" x2="293.5" y2="13.5" stroke="#148a24" stroke-width="1"/>
<rect x="291.5" y="4.5" width="4" height="7" fill="#22d03a" stroke="#148a24" stroke-width="1"/>
<g stroke="#555555" stroke-width="1" fill="none" shape-rendering="crispEdges">
<line x1="315.5" y1="5" x2="315.5" y2="18"/>
<line x1="313" y1="15.5" x2="327" y2="15.5"/>
</g>
<polygon points="313.5,7 315.5,4 317.5,7" fill="#555555"/>
<polygon points="325,13.5 328,15.5 325,17.5" fill="#555555"/>
<path d="M314.5,12.5 q4,-7 7,-5 t5,3.5" fill="none" stroke="#2a9a3a" stroke-width="1.3"/>
<line x1="355" y1="12" x2="360" y2="16.6" stroke="#a88418" stroke-width="3.2" stroke-linecap="round"/>
<line x1="355" y1="12" x2="360" y2="16.6" stroke="#f0cc4a" stroke-width="1.6" stroke-linecap="round"/>
<circle cx="351" cy="8.1" r="5.4" fill="#cfe6f8" stroke="#2f78c8" stroke-width="1.4"/>
<rect x="348" y="7.3" width="6" height="1.7" fill="#2f6fb8"/>
<rect x="350.15" y="5.1" width="1.7" height="6" fill="#2f6fb8"/>
<line x1="383.3" y1="12" x2="388.3" y2="16.6" stroke="#a88418" stroke-width="3.2" stroke-linecap="round"/>
<line x1="383.3" y1="12" x2="388.3" y2="16.6" stroke="#f0cc4a" stroke-width="1.6" stroke-linecap="round"/>
<circle cx="379.3" cy="8.1" r="5.4" fill="#cfe6f8" stroke="#2f78c8" stroke-width="1.4"/>
<rect x="376.3" y="7.3" width="6" height="1.7" fill="#2f6fb8"/>
<rect x="401.5" y="2" width="7.6" height="7.6" fill="#4aa52e" stroke="#2f7a1c" stroke-width="0.6"/>
<rect x="403.0" y="5" width="4.8" height="3.2" fill="#eef3fb"/>
<rect x="409.7" y="2" width="7.6" height="7.6" fill="#2f62d0" stroke="#1c3f9a" stroke-width="0.6"/>
<rect x="411.2" y="5" width="4.8" height="3.2" fill="#eef3fb"/>
<rect x="401.5" y="10.2" width="7.6" height="7.6" fill="#2f62d0" stroke="#1c3f9a" stroke-width="0.6"/>
<rect x="403.0" y="13.2" width="4.8" height="3.2" fill="#eef3fb"/>
<rect x="409.7" y="10.2" width="7.6" height="7.6" fill="#4aa52e" stroke="#2f7a1c" stroke-width="0.6"/>
<rect x="411.2" y="13.2" width="4.8" height="3.2" fill="#eef3fb"/>
<g stroke="#555555" stroke-width="1" fill="none" shape-rendering="crispEdges">
<line x1="439.5" y1="5" x2="439.5" y2="18"/>
<line x1="437" y1="15.5" x2="451" y2="15.5"/>
</g>
<polygon points="437.5,7 439.5,4 441.5,7" fill="#555555"/>
<polygon points="449,13.5 452,15.5 449,17.5" fill="#555555"/>
<polygon points="444.5,5.5 449.5,9 444.5,12.5" fill="#22b03a"/>
<g stroke="#555555" stroke-width="1" fill="none" shape-rendering="crispEdges">
<line x1="467.5" y1="5" x2="467.5" y2="18"/>
<line x1="465" y1="15.5" x2="479" y2="15.5"/>
</g>
<polygon points="465.5,7 467.5,4 469.5,7" fill="#555555"/>
<polygon points="477,13.5 480,15.5 477,17.5" fill="#555555"/>
<line x1="473.5" y1="4" x2="473.5" y2="13.5" stroke="#2a5aa8" stroke-width="1.2"/>
<path d="M480,9 h-4.5 M477.3,7 l-2,2 l2,2" stroke="#d04a1c" stroke-width="1.2" fill="none"/>
<path d="M498.5,3.5 h6 l3,3 v8 h-9 z" fill="#ffffff" stroke="#8a8a8a" stroke-width="1"/>
<path d="M500.5,6 h5 l2.5,2.5 v8 h-7.5 z" fill="#f6f6f6" stroke="#8a8a8a" stroke-width="1"/>
<text x="501" y="12" font-size="7" fill="#666" font-style="italic">f</text>
<path d="M506.5,8 h4 v3.5 h3.5 v4 h-3.5 v3.5 h-4 v-3.5 h-3.5 v-4 h3.5 z" fill="url(#gPlus)" stroke="#0f9a0f" stroke-width="0.8"/>
<polygon points="520,8.5 526,8.5 523,11.5" fill="#000"/>
<circle cx="544" cy="10" r="7.6" fill="#2a66d0" stroke="#1a46a0" stroke-width="0.8"/>
<circle cx="544" cy="10" r="5.4" fill="#f4f7fb"/>
<path d="M544,6 v4.2 h3" stroke="#444" stroke-width="1" fill="none"/>
<polygon points="559,8.5 565,8.5 562,11.5" fill="#000"/>
<rect x="575.5" y="3.5" width="15" height="13" fill="#f2f6fb" stroke="#3a7ad0" stroke-width="1"/>
<rect x="575.5" y="3.5" width="15" height="2" fill="#3a7ad0"/>
<path d="M577.5,9 l3,-1 l2,0.6 l3,-1.4 l3,0.4" stroke="#c0281c" stroke-width="1.2" fill="none"/>
<path d="M577.5,14 l3,-1.2 l2,0.8 l3,-1.8 l3,1" stroke="#1e9a2e" stroke-width="1.2" fill="none"/>
<polygon points="598,8.5 604,8.5 601,11.5" fill="#000"/>
<polygon points="627.5,3.5 627.5,15 630.3,12.4 632.6,17 634.3,16.2 632,11.8 635.8,11.5" fill="#333"/>
<g stroke="#444" stroke-width="1" shape-rendering="crispEdges"><line x1="659.5" y1="3" x2="659.5" y2="18"/><line x1="652" y1="10.5" x2="667" y2="10.5"/></g>
<rect x="659" y="10" width="1" height="1" fill="#f0f0f0"/>
<g stroke="#444" stroke-width="1" shape-rendering="crispEdges"><line x1="693.5" y1="4" x2="693.5" y2="17"/><line x1="716" y1="10.5" x2="729" y2="10.5"/></g>
<line x1="744" y1="16.8" x2="756" y2="5" stroke="#555" stroke-width="1.1"/>
<g stroke="#555" stroke-width="1" fill="none"><line x1="770" y1="15" x2="784" y2="4.5"/><line x1="772" y1="17" x2="785" y2="7.5"/><line x1="770" y1="12" x2="781" y2="3.5"/><path d="M774,9.5 l2,6 M777.5,7 l2,6 M781,4.5 l2,6"/></g>
<text x="781" y="19.5" font-size="6.5" font-weight="bold" fill="#333">E</text>
<g stroke="#555" stroke-width="1" stroke-dasharray="1 1" shape-rendering="crispEdges"><line x1="799" y1="3.5" x2="812" y2="3.5"/><line x1="799" y1="7.5" x2="812" y2="7.5"/><line x1="799" y1="10.5" x2="812" y2="10.5"/><line x1="799" y1="14.5" x2="808" y2="14.5"/></g>
<text x="808.5" y="19.5" font-size="6.5" font-weight="bold" fill="#333">F</text>
<text x="829.3" y="14.8" font-size="12" font-weight="bold" fill="#555" textLength="8.6" lengthAdjust="spacingAndGlyphs">A</text>
<rect x="855.5" y="4.5" width="12" height="12" fill="none" stroke="#555" stroke-width="1" stroke-dasharray="1 1" shape-rendering="crispEdges"/>
<text x="857.3" y="15.3" font-size="11.5" font-weight="bold" fill="#555">T</text>
<polygon points="882.7,6.6 886.5,4 890.3,6.6 886.5,9.2" fill="#444"/><polygon points="889.5,14.4 893.2,11.8 897,14.4 893.2,17.2" fill="#444"/>
<path d="M884.3,11 l2.6,2.3 l4.8,-4.8" stroke="#444" stroke-width="1.4" fill="none"/>
<polygon points="904,8.5 910,8.5 907,11.5" fill="#000"/>
<g font-size="9.6" fill="#4a4a4a">
<text x="931" y="13.3" textLength="12.3" lengthAdjust="spacingAndGlyphs">M1</text>
<text x="958" y="13.3" textLength="13" lengthAdjust="spacingAndGlyphs">M5</text>
<text x="985" y="13.3" textLength="18" lengthAdjust="spacingAndGlyphs">M15</text>
<text x="1013" y="13.3" textLength="17.5" lengthAdjust="spacingAndGlyphs">M30</text>
<text x="1043" y="13.3" textLength="12" lengthAdjust="spacingAndGlyphs">H1</text>
<text x="1071" y="13.3" textLength="12" lengthAdjust="spacingAndGlyphs">H4</text>
<text x="1099" y="13.3" textLength="12" lengthAdjust="spacingAndGlyphs">D1</text>
<text x="1127" y="13.3" textLength="14" lengthAdjust="spacingAndGlyphs">W1</text>
<text x="1153" y="13.3" textLength="15" lengthAdjust="spacingAndGlyphs">MN</text>
</g>
<line x1="1639.5" y1="14.5" x2="1644" y2="10" stroke="#2a5fd0" stroke-width="2.4" stroke-linecap="round"/>
<circle cx="1646.6" cy="7" r="3.9" fill="#f4f6fb" stroke="#2a5fd0" stroke-width="1.3"/>
<path d="M1664,13 a4.5,4.5 0 0 1 4.5,-4.5 h3 a4.5,4.5 0 0 1 0,9 h-3.5 l-1.8,1.5 l0.3,-1.8 a4.5,4.5 0 0 1 -2.5,-4.2 z" fill="#e4e6ea" stroke="#b4b7bd" stroke-width="0.8"/>
<circle cx="1677.7" cy="7.4" r="8.2" fill="#e0361e"/>
<text x="1673.9" y="12" font-size="13" font-weight="bold" fill="#fff">1</text>
</svg>
</body></html>
